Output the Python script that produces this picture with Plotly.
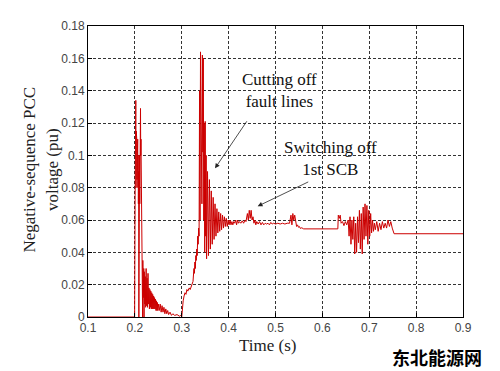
import plotly.graph_objects as go

time_s = [
    0.1, 0.1995, 0.2005, 0.201, 0.2015, 0.202, 0.2025, 0.203, 0.2035, 0.204,
    0.2045, 0.205, 0.2055, 0.206, 0.2065, 0.207, 0.2075, 0.208, 0.2085, 0.209,
    0.2095, 0.21, 0.2105, 0.211, 0.2115, 0.212, 0.2125, 0.213, 0.2135, 0.214,
    0.2145, 0.215, 0.2155, 0.216, 0.2165, 0.217, 0.218, 0.219, 0.2195, 0.22,
    0.221, 0.222, 0.223, 0.224, 0.225, 0.226, 0.227, 0.228, 0.229, 0.230,
    0.231, 0.232, 0.233, 0.234, 0.235, 0.236, 0.237, 0.238, 0.239, 0.240,
    0.241, 0.242, 0.243, 0.244, 0.245, 0.246, 0.247, 0.248, 0.249, 0.250,
    0.252, 0.254, 0.256, 0.258, 0.260, 0.262, 0.264, 0.266, 0.268, 0.270,
    0.272, 0.275, 0.278, 0.281, 0.285, 0.29, 0.295, 0.298, 0.3,
    0.301, 0.302, 0.303, 0.305, 0.307, 0.309, 0.311, 0.313, 0.316, 0.318,
    0.32, 0.322, 0.324, 0.326, 0.327, 0.328, 0.329, 0.33, 0.331, 0.332,
    0.333, 0.334, 0.335, 0.336, 0.337, 0.338, 0.339, 0.34, 0.341, 0.342,
    0.343, 0.344, 0.345, 0.346, 0.347, 0.348, 0.349, 0.35, 0.351, 0.352,
    0.353, 0.355, 0.357, 0.359, 0.361, 0.363, 0.365, 0.367, 0.369, 0.371,
    0.373, 0.375, 0.377, 0.379, 0.381, 0.383, 0.385, 0.387, 0.389, 0.391,
    0.393, 0.395, 0.397, 0.399, 0.401, 0.403, 0.405, 0.407, 0.409, 0.411,
    0.413, 0.415, 0.417, 0.419, 0.421, 0.423, 0.426, 0.429, 0.432, 0.435,
    0.437, 0.44, 0.442, 0.444, 0.446, 0.448, 0.45, 0.452, 0.454, 0.456,
    0.458, 0.46, 0.463, 0.466, 0.469, 0.472, 0.475, 0.478, 0.481, 0.484,
    0.487, 0.49, 0.493, 0.496, 0.5, 0.505, 0.51, 0.515, 0.52, 0.525,
    0.53, 0.533, 0.535, 0.537, 0.539, 0.541, 0.543, 0.545, 0.547, 0.549,
    0.551, 0.553, 0.556, 0.56, 0.633, 0.634, 0.636, 0.638, 0.64, 0.643,
    0.646, 0.649, 0.652, 0.655, 0.657, 0.659, 0.661, 0.663, 0.665, 0.667,
    0.669, 0.671, 0.673, 0.675, 0.677, 0.679, 0.681, 0.683, 0.685, 0.687,
    0.689, 0.691, 0.693, 0.695, 0.697, 0.699, 0.701, 0.703, 0.705, 0.707,
    0.709, 0.711, 0.713, 0.716, 0.719, 0.722, 0.725, 0.728, 0.731, 0.734,
    0.737, 0.74, 0.743, 0.746, 0.749, 0.751, 0.753, 0.9,
]

voltage_pu = [
    0.0, 0.0, 0.075, 0.09, 0.12, 0.134, 0.08, 0.115, 0.09, 0.11,
    0.085, 0.105, 0.09, 0.11, 0.08, 0.1, 0.07, 0.09, 0.0, 0.095,
    0.06, 0.1, 0.07, 0.108, 0.09, 0.129, 0.1, 0.11, 0.09, 0.095,
    0.06, 0.05, 0.04, 0.045, 0.0, 0.035, 0.012, 0.03, 0.0, 0.028,
    0.008, 0.025, 0.006, 0.03, 0.007, 0.024, 0.006, 0.027, 0.008, 0.018,
    0.005, 0.017, 0.006, 0.016, 0.005, 0.015, 0.005, 0.014, 0.005, 0.013,
    0.005, 0.012, 0.005, 0.011, 0.004, 0.010, 0.004, 0.009, 0.004, 0.008,
    0.004, 0.008, 0.003, 0.007, 0.003, 0.006, 0.002, 0.005, 0.002, 0.004,
    0.0015, 0.003, 0.001, 0.002, 0.001, 0.0015, 0.0005, 0.001, 0.0,
    0.006, 0.004, 0.01, 0.013, 0.015, 0.014, 0.017, 0.016, 0.018, 0.017,
    0.019, 0.02, 0.022, 0.03, 0.027, 0.034, 0.03, 0.038, 0.035, 0.042,
    0.038, 0.05, 0.045, 0.055, 0.05, 0.14, 0.06, 0.164, 0.1, 0.138,
    0.07, 0.162, 0.102, 0.16, 0.06, 0.12, 0.04, 0.121, 0.05, 0.1,
    0.036, 0.09, 0.038, 0.085, 0.042, 0.078, 0.045, 0.074, 0.048, 0.07,
    0.05, 0.067, 0.052, 0.065, 0.053, 0.064, 0.054, 0.063, 0.055, 0.062,
    0.056, 0.061, 0.056, 0.06, 0.057, 0.06, 0.057, 0.059, 0.057, 0.059,
    0.058, 0.06, 0.057, 0.06, 0.058, 0.059, 0.058, 0.0595, 0.058, 0.06,
    0.059, 0.064, 0.06, 0.066, 0.061, 0.066, 0.06, 0.062, 0.058, 0.06,
    0.057, 0.059, 0.0575, 0.059, 0.057, 0.0585, 0.057, 0.058, 0.0575, 0.058,
    0.057, 0.0585, 0.0575, 0.058, 0.0575, 0.058, 0.0575, 0.058, 0.0575, 0.058,
    0.058, 0.063, 0.057, 0.064, 0.06, 0.063, 0.058, 0.056, 0.057, 0.0555,
    0.056, 0.0548, 0.0552, 0.0545, 0.0545, 0.063, 0.061, 0.063, 0.058, 0.059,
    0.0565, 0.059, 0.057, 0.06, 0.05, 0.062, 0.045, 0.06, 0.048, 0.062,
    0.039, 0.058, 0.04, 0.062, 0.046, 0.066, 0.042, 0.064, 0.039, 0.068,
    0.048, 0.07, 0.05, 0.069, 0.045, 0.066, 0.05, 0.064, 0.052, 0.06,
    0.053, 0.058, 0.054, 0.059, 0.053, 0.058, 0.054, 0.059, 0.055, 0.058,
    0.055, 0.06, 0.056, 0.059, 0.055, 0.053, 0.0515, 0.0515,
]

x_ticks = [0.1, 0.2, 0.3, 0.4, 0.5, 0.6, 0.7, 0.8, 0.9]
x_tick_labels = ["0.1", "0.2", "0.3", "0.4", "0.5", "0.6", "0.7", "0.8", "0.9"]
y_ticks = [0, 0.02, 0.04, 0.06, 0.08, 0.1, 0.12, 0.14, 0.16, 0.18]
y_tick_labels = ["0", "0.02", "0.04", "0.06", "0.08", "0.1", "0.12", "0.14", "0.16", "0.18"]

serif = "Liberation Serif, Times New Roman, serif"
sans = "Liberation Sans, Arial, sans-serif"

# The page body has an 8px margin, so the figure is drawn 8px smaller
# and the margins are set in figure coordinates.
W, H = 492, 363
L, R, T, B = 80, 37, 11, 54
PW, PH = W - L - R, H - T - B
OFF = 8


def px_x(page_x):
    return (page_x - OFF - L) / PW


def px_y(page_y):
    return (H - B - (page_y - OFF)) / PH


fig = go.Figure()
fig.add_trace(go.Scatter(
    x=time_s, y=voltage_pu, mode="lines",
    line=dict(color="#cc0000", width=1),
    showlegend=False, hoverinfo="skip",
))

axis_common = dict(
    showline=True, linecolor="black", linewidth=1, mirror=True,
    showgrid=True, gridcolor="#333333", gridwidth=1, griddash="3px,2px",
    zeroline=False, ticks="inside", ticklen=4, tickcolor="black",
    tickfont=dict(family=sans, size=12, color="#444444"),
)

fig.update_layout(
    width=W, height=H,
    margin=dict(l=L, r=R, t=T, b=B),
    paper_bgcolor="white", plot_bgcolor="white",
    xaxis=dict(range=[0.1, 0.9], tickvals=x_ticks, ticktext=x_tick_labels, **axis_common),
    yaxis=dict(range=[0, 0.18], tickvals=y_ticks, ticktext=y_tick_labels, **axis_common),
)

# axis titles
fig.add_annotation(
    x=px_x(267), y=px_y(346), xref="paper", yref="paper", xanchor="center", yanchor="middle",
    text="Time (s)", showarrow=False, font=dict(family=serif, size=17, color="#222222"),
)
fig.add_annotation(
    x=px_x(41), y=px_y(166), xref="paper", yref="paper", xanchor="center", yanchor="middle",
    text="Negative-sequence PCC<br>voltage (pu)", textangle=-90, showarrow=False,
    font=dict(family=serif, size=17, color="#222222"),
)

fig.add_annotation(
    x=0.371, y=0.092, ax=0.441, ay=0.122, xref="x", yref="y", axref="x", ayref="y",
    text="", showarrow=True, arrowhead=2, arrowsize=1.2, arrowwidth=0.8, arrowcolor="#222222",
)
fig.add_annotation(
    x=0.5075, y=0.140, xref="x", yref="y", xanchor="center", yanchor="middle",
    text="Cutting off<br>fault lines",
    showarrow=False, font=dict(family=serif, size=17, color="#111111"),
)
fig.add_annotation(
    x=0.462, y=0.0685, ax=0.573, ay=0.084, xref="x", yref="y", axref="x", ayref="y",
    text="", showarrow=True, arrowhead=2, arrowsize=1.2, arrowwidth=0.8, arrowcolor="#222222",
)
fig.add_annotation(
    x=0.618, y=0.0978, xref="x", yref="y", xanchor="center", yanchor="middle",
    text="Switching off<br>1st SCB",
    showarrow=False, font=dict(family=serif, size=17, color="#111111"),
)
# watermark
fig.add_annotation(
    x=px_x(437), y=px_y(358), xref="paper", yref="paper", xanchor="center", yanchor="middle",
    text="<b>东北能源网</b>", showarrow=False,
    font=dict(family="Noto Sans CJK SC", size=18, color="black"),
)

fig.write_html("out.html")
